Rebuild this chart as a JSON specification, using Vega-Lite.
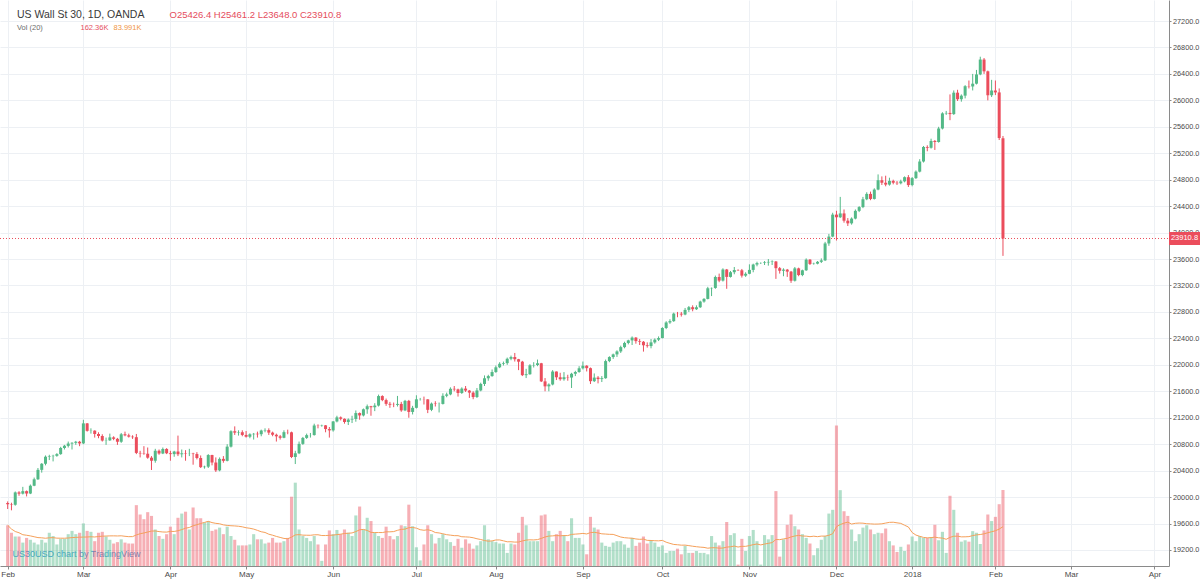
{
  "$schema": "https://vega.github.io/schema/vega-lite/v6.json",
  "width": 1169,
  "height": 566,
  "autosize": {"type": "none"},
  "padding": {"left": 0, "top": 0, "right": 31, "bottom": 13},
  "background": "#ffffff",
  "config": {
    "font": "Liberation Sans",
    "view": {"stroke": null},
    "axis": {"labelFont": "Liberation Sans", "titleFont": "Liberation Sans"}
  },
  "title": {
    "text": "US Wall St 30, 1D, OANDA",
    "subtitle": "Vol (20)",
    "anchor": "start",
    "frame": "group",
    "orient": "top",
    "offset": -31,
    "dx": 17,
    "font": "Liberation Sans",
    "fontSize": 10.5,
    "fontWeight": "normal",
    "color": "#3a3a3a",
    "subtitleFont": "Liberation Sans",
    "subtitleFontSize": 7.5,
    "subtitleColor": "#6b6b6b",
    "subtitlePadding": 3
  },
  "data": {"values": [
    {"d":"2017-02-01","o":19910,"h":19935,"l":19820,"c":19890,"v":87},
    {"d":"2017-02-02","o":19890,"h":19915,"l":19800,"c":19884,"v":71},
    {"d":"2017-02-03","o":19884,"h":20085,"l":19870,"c":20071,"v":63},
    {"d":"2017-02-06","o":20071,"h":20090,"l":20020,"c":20052,"v":63},
    {"d":"2017-02-07","o":20052,"h":20155,"l":20040,"c":20090,"v":50},
    {"d":"2017-02-08","o":20090,"h":20100,"l":20010,"c":20054,"v":60},
    {"d":"2017-02-09","o":20054,"h":20190,"l":20045,"c":20172,"v":56},
    {"d":"2017-02-10","o":20172,"h":20295,"l":20165,"c":20269,"v":50},
    {"d":"2017-02-13","o":20269,"h":20440,"l":20260,"c":20412,"v":46},
    {"d":"2017-02-14","o":20412,"h":20515,"l":20370,"c":20504,"v":56},
    {"d":"2017-02-15","o":20504,"h":20630,"l":20480,"c":20611,"v":50},
    {"d":"2017-02-16","o":20611,"h":20640,"l":20560,"c":20619,"v":71},
    {"d":"2017-02-17","o":20619,"h":20640,"l":20540,"c":20624,"v":64},
    {"d":"2017-02-20","o":20624,"h":20665,"l":20610,"c":20650,"v":46},
    {"d":"2017-02-21","o":20650,"h":20760,"l":20640,"c":20743,"v":58},
    {"d":"2017-02-22","o":20743,"h":20790,"l":20720,"c":20775,"v":58},
    {"d":"2017-02-23","o":20775,"h":20840,"l":20750,"c":20810,"v":68},
    {"d":"2017-02-24","o":20810,"h":20830,"l":20720,"c":20821,"v":75},
    {"d":"2017-02-27","o":20821,"h":20850,"l":20790,"c":20837,"v":68},
    {"d":"2017-02-28","o":20837,"h":20850,"l":20770,"c":20812,"v":71},
    {"d":"2017-03-01","o":20812,"h":21169,"l":20800,"c":21115,"v":91},
    {"d":"2017-03-02","o":21115,"h":21120,"l":20990,"c":21002,"v":75},
    {"d":"2017-03-03","o":21002,"h":21040,"l":20960,"c":21005,"v":73},
    {"d":"2017-03-06","o":21005,"h":21010,"l":20900,"c":20954,"v":53},
    {"d":"2017-03-07","o":20954,"h":20980,"l":20890,"c":20924,"v":71},
    {"d":"2017-03-08","o":20924,"h":20950,"l":20840,"c":20855,"v":73},
    {"d":"2017-03-09","o":20855,"h":20900,"l":20790,"c":20858,"v":63},
    {"d":"2017-03-10","o":20858,"h":20960,"l":20850,"c":20903,"v":56},
    {"d":"2017-03-13","o":20903,"h":20920,"l":20860,"c":20881,"v":48},
    {"d":"2017-03-14","o":20881,"h":20895,"l":20790,"c":20837,"v":51},
    {"d":"2017-03-15","o":20837,"h":20970,"l":20820,"c":20950,"v":57},
    {"d":"2017-03-16","o":20950,"h":20990,"l":20920,"c":20934,"v":50},
    {"d":"2017-03-17","o":20934,"h":20960,"l":20900,"c":20914,"v":48},
    {"d":"2017-03-20","o":20914,"h":20935,"l":20880,"c":20906,"v":48},
    {"d":"2017-03-21","o":20906,"h":20955,"l":20650,"c":20668,"v":130},
    {"d":"2017-03-22","o":20668,"h":20700,"l":20600,"c":20661,"v":110},
    {"d":"2017-03-23","o":20661,"h":20770,"l":20640,"c":20656,"v":100},
    {"d":"2017-03-24","o":20656,"h":20750,"l":20580,"c":20596,"v":115},
    {"d":"2017-03-27","o":20596,"h":20620,"l":20410,"c":20550,"v":107},
    {"d":"2017-03-28","o":20550,"h":20730,"l":20520,"c":20701,"v":78},
    {"d":"2017-03-29","o":20701,"h":20720,"l":20640,"c":20659,"v":64},
    {"d":"2017-03-30","o":20659,"h":20750,"l":20650,"c":20728,"v":58},
    {"d":"2017-03-31","o":20728,"h":20740,"l":20650,"c":20663,"v":68},
    {"d":"2017-04-03","o":20663,"h":20700,"l":20550,"c":20650,"v":84},
    {"d":"2017-04-04","o":20650,"h":20700,"l":20610,"c":20689,"v":68},
    {"d":"2017-04-05","o":20689,"h":20930,"l":20620,"c":20648,"v":103},
    {"d":"2017-04-06","o":20648,"h":20720,"l":20600,"c":20662,"v":112},
    {"d":"2017-04-07","o":20662,"h":20710,"l":20550,"c":20656,"v":116},
    {"d":"2017-04-10","o":20656,"h":20730,"l":20620,"c":20658,"v":78},
    {"d":"2017-04-11","o":20658,"h":20670,"l":20490,"c":20651,"v":125},
    {"d":"2017-04-12","o":20651,"h":20680,"l":20570,"c":20591,"v":102},
    {"d":"2017-04-13","o":20591,"h":20630,"l":20440,"c":20453,"v":102},
    {"d":"2017-04-14","o":20453,"h":20475,"l":20430,"c":20460,"v":93},
    {"d":"2017-04-17","o":20460,"h":20650,"l":20440,"c":20636,"v":96},
    {"d":"2017-04-18","o":20636,"h":20640,"l":20480,"c":20523,"v":75},
    {"d":"2017-04-19","o":20523,"h":20600,"l":20380,"c":20404,"v":78},
    {"d":"2017-04-20","o":20404,"h":20600,"l":20390,"c":20578,"v":82},
    {"d":"2017-04-21","o":20578,"h":20620,"l":20520,"c":20548,"v":68},
    {"d":"2017-04-24","o":20548,"h":20800,"l":20540,"c":20763,"v":84},
    {"d":"2017-04-25","o":20763,"h":21010,"l":20750,"c":20996,"v":64},
    {"d":"2017-04-26","o":20996,"h":21070,"l":20940,"c":20975,"v":56},
    {"d":"2017-04-27","o":20975,"h":21010,"l":20930,"c":20981,"v":44},
    {"d":"2017-04-28","o":20981,"h":21010,"l":20920,"c":20940,"v":44},
    {"d":"2017-05-01","o":20940,"h":21000,"l":20900,"c":20913,"v":44},
    {"d":"2017-05-02","o":20913,"h":20965,"l":20890,"c":20950,"v":46},
    {"d":"2017-05-03","o":20950,"h":20970,"l":20870,"c":20957,"v":68},
    {"d":"2017-05-04","o":20957,"h":20990,"l":20900,"c":20951,"v":57},
    {"d":"2017-05-05","o":20951,"h":21020,"l":20920,"c":21007,"v":57},
    {"d":"2017-05-08","o":21007,"h":21040,"l":20980,"c":21013,"v":48},
    {"d":"2017-05-09","o":21013,"h":21040,"l":20940,"c":20975,"v":50},
    {"d":"2017-05-10","o":20975,"h":20990,"l":20920,"c":20943,"v":60},
    {"d":"2017-05-11","o":20943,"h":20960,"l":20840,"c":20919,"v":50},
    {"d":"2017-05-12","o":20919,"h":20940,"l":20870,"c":20897,"v":50},
    {"d":"2017-05-15","o":20897,"h":21010,"l":20890,"c":20982,"v":53},
    {"d":"2017-05-16","o":20982,"h":21020,"l":20950,"c":20980,"v":60},
    {"d":"2017-05-17","o":20980,"h":20990,"l":20590,"c":20606,"v":148},
    {"d":"2017-05-18","o":20606,"h":20700,"l":20500,"c":20663,"v":178},
    {"d":"2017-05-19","o":20663,"h":20840,"l":20650,"c":20805,"v":78},
    {"d":"2017-05-22","o":20805,"h":20910,"l":20790,"c":20895,"v":64},
    {"d":"2017-05-23","o":20895,"h":20960,"l":20880,"c":20937,"v":60},
    {"d":"2017-05-24","o":20937,"h":20970,"l":20900,"c":20938,"v":53},
    {"d":"2017-05-25","o":20938,"h":21110,"l":20930,"c":21083,"v":64},
    {"d":"2017-05-26","o":21083,"h":21100,"l":21040,"c":21080,"v":46},
    {"d":"2017-05-29","o":21080,"h":21095,"l":21065,"c":21085,"v":11},
    {"d":"2017-05-30","o":21085,"h":21090,"l":20980,"c":21029,"v":46},
    {"d":"2017-05-31","o":21029,"h":21060,"l":20900,"c":21009,"v":76},
    {"d":"2017-06-01","o":21009,"h":21150,"l":20990,"c":21144,"v":68},
    {"d":"2017-06-02","o":21144,"h":21230,"l":21130,"c":21206,"v":77},
    {"d":"2017-06-05","o":21206,"h":21220,"l":21160,"c":21184,"v":68},
    {"d":"2017-06-06","o":21184,"h":21190,"l":21110,"c":21136,"v":78},
    {"d":"2017-06-07","o":21136,"h":21190,"l":21090,"c":21173,"v":71},
    {"d":"2017-06-08","o":21173,"h":21230,"l":21120,"c":21182,"v":64},
    {"d":"2017-06-09","o":21182,"h":21310,"l":21140,"c":21271,"v":108},
    {"d":"2017-06-12","o":21271,"h":21280,"l":21170,"c":21235,"v":127},
    {"d":"2017-06-13","o":21235,"h":21340,"l":21220,"c":21328,"v":78},
    {"d":"2017-06-14","o":21328,"h":21400,"l":21260,"c":21374,"v":103},
    {"d":"2017-06-15","o":21374,"h":21380,"l":21230,"c":21359,"v":96},
    {"d":"2017-06-16","o":21359,"h":21420,"l":21300,"c":21384,"v":71},
    {"d":"2017-06-19","o":21384,"h":21550,"l":21370,"c":21528,"v":64},
    {"d":"2017-06-20","o":21528,"h":21540,"l":21450,"c":21467,"v":60},
    {"d":"2017-06-21","o":21467,"h":21490,"l":21380,"c":21410,"v":84},
    {"d":"2017-06-22","o":21410,"h":21440,"l":21350,"c":21397,"v":64},
    {"d":"2017-06-23","o":21397,"h":21430,"l":21360,"c":21395,"v":57},
    {"d":"2017-06-26","o":21395,"h":21530,"l":21370,"c":21409,"v":64},
    {"d":"2017-06-27","o":21409,"h":21440,"l":21290,"c":21311,"v":87},
    {"d":"2017-06-28","o":21311,"h":21470,"l":21300,"c":21455,"v":85},
    {"d":"2017-06-29","o":21455,"h":21470,"l":21200,"c":21288,"v":131},
    {"d":"2017-06-30","o":21288,"h":21380,"l":21250,"c":21350,"v":85},
    {"d":"2017-07-03","o":21350,"h":21540,"l":21340,"c":21479,"v":40},
    {"d":"2017-07-04","o":21479,"h":21500,"l":21460,"c":21480,"v":12},
    {"d":"2017-07-05","o":21480,"h":21520,"l":21400,"c":21478,"v":46},
    {"d":"2017-07-06","o":21478,"h":21480,"l":21270,"c":21320,"v":87},
    {"d":"2017-07-07","o":21320,"h":21430,"l":21300,"c":21414,"v":68},
    {"d":"2017-07-10","o":21414,"h":21450,"l":21370,"c":21408,"v":48},
    {"d":"2017-07-11","o":21408,"h":21430,"l":21280,"c":21409,"v":60},
    {"d":"2017-07-12","o":21409,"h":21570,"l":21400,"c":21532,"v":68},
    {"d":"2017-07-13","o":21532,"h":21580,"l":21510,"c":21553,"v":57},
    {"d":"2017-07-14","o":21553,"h":21660,"l":21540,"c":21638,"v":51},
    {"d":"2017-07-17","o":21638,"h":21680,"l":21600,"c":21629,"v":43},
    {"d":"2017-07-18","o":21629,"h":21640,"l":21520,"c":21574,"v":58},
    {"d":"2017-07-19","o":21574,"h":21660,"l":21560,"c":21641,"v":39},
    {"d":"2017-07-20","o":21641,"h":21680,"l":21590,"c":21611,"v":57},
    {"d":"2017-07-21","o":21611,"h":21620,"l":21500,"c":21580,"v":48},
    {"d":"2017-07-24","o":21580,"h":21600,"l":21480,"c":21513,"v":37},
    {"d":"2017-07-25","o":21513,"h":21650,"l":21500,"c":21613,"v":44},
    {"d":"2017-07-26","o":21613,"h":21730,"l":21600,"c":21711,"v":53},
    {"d":"2017-07-27","o":21711,"h":21840,"l":21680,"c":21797,"v":87},
    {"d":"2017-07-28","o":21797,"h":21850,"l":21760,"c":21830,"v":57},
    {"d":"2017-07-31","o":21830,"h":21930,"l":21820,"c":21891,"v":53},
    {"d":"2017-08-01","o":21891,"h":21990,"l":21880,"c":21963,"v":51},
    {"d":"2017-08-02","o":21963,"h":22040,"l":21950,"c":22016,"v":48},
    {"d":"2017-08-03","o":22016,"h":22050,"l":21990,"c":22026,"v":48},
    {"d":"2017-08-04","o":22026,"h":22110,"l":22000,"c":22092,"v":28},
    {"d":"2017-08-07","o":22092,"h":22140,"l":22070,"c":22118,"v":48},
    {"d":"2017-08-08","o":22118,"h":22180,"l":22050,"c":22085,"v":46},
    {"d":"2017-08-09","o":22085,"h":22090,"l":21920,"c":22048,"v":71},
    {"d":"2017-08-10","o":22048,"h":22060,"l":21830,"c":21844,"v":105},
    {"d":"2017-08-11","o":21844,"h":21940,"l":21800,"c":21858,"v":87},
    {"d":"2017-08-14","o":21858,"h":22010,"l":21850,"c":21993,"v":53},
    {"d":"2017-08-15","o":21993,"h":22040,"l":21960,"c":21998,"v":53},
    {"d":"2017-08-16","o":21998,"h":22080,"l":21980,"c":22024,"v":53},
    {"d":"2017-08-17","o":22024,"h":22030,"l":21740,"c":21750,"v":108},
    {"d":"2017-08-18","o":21750,"h":21800,"l":21600,"c":21675,"v":110},
    {"d":"2017-08-21","o":21675,"h":21720,"l":21600,"c":21703,"v":75},
    {"d":"2017-08-22","o":21703,"h":21920,"l":21690,"c":21899,"v":53},
    {"d":"2017-08-23","o":21899,"h":21900,"l":21770,"c":21812,"v":68},
    {"d":"2017-08-24","o":21812,"h":21880,"l":21760,"c":21783,"v":75},
    {"d":"2017-08-25","o":21783,"h":21890,"l":21760,"c":21813,"v":66},
    {"d":"2017-08-28","o":21813,"h":21850,"l":21760,"c":21808,"v":53},
    {"d":"2017-08-29","o":21808,"h":21880,"l":21650,"c":21865,"v":102},
    {"d":"2017-08-30","o":21865,"h":21910,"l":21830,"c":21892,"v":60},
    {"d":"2017-08-31","o":21892,"h":21980,"l":21880,"c":21948,"v":60},
    {"d":"2017-09-01","o":21948,"h":22050,"l":21930,"c":21987,"v":46},
    {"d":"2017-09-04","o":21987,"h":21995,"l":21900,"c":21950,"v":25},
    {"d":"2017-09-05","o":21950,"h":21960,"l":21710,"c":21753,"v":105},
    {"d":"2017-09-06","o":21753,"h":21870,"l":21740,"c":21807,"v":82},
    {"d":"2017-09-07","o":21807,"h":21830,"l":21720,"c":21785,"v":78},
    {"d":"2017-09-08","o":21785,"h":21830,"l":21740,"c":21798,"v":50},
    {"d":"2017-09-11","o":21798,"h":22080,"l":21790,"c":22057,"v":43},
    {"d":"2017-09-12","o":22057,"h":22130,"l":22040,"c":22118,"v":41},
    {"d":"2017-09-13","o":22118,"h":22170,"l":22090,"c":22158,"v":50},
    {"d":"2017-09-14","o":22158,"h":22220,"l":22120,"c":22203,"v":53},
    {"d":"2017-09-15","o":22203,"h":22290,"l":22180,"c":22268,"v":53},
    {"d":"2017-09-18","o":22268,"h":22350,"l":22250,"c":22331,"v":46},
    {"d":"2017-09-19","o":22331,"h":22380,"l":22310,"c":22370,"v":39},
    {"d":"2017-09-20","o":22370,"h":22430,"l":22300,"c":22412,"v":60},
    {"d":"2017-09-21","o":22412,"h":22420,"l":22320,"c":22359,"v":43},
    {"d":"2017-09-22","o":22359,"h":22390,"l":22300,"c":22349,"v":50},
    {"d":"2017-09-25","o":22349,"h":22360,"l":22200,"c":22296,"v":63},
    {"d":"2017-09-26","o":22296,"h":22340,"l":22260,"c":22284,"v":48},
    {"d":"2017-09-27","o":22284,"h":22390,"l":22250,"c":22340,"v":55},
    {"d":"2017-09-28","o":22340,"h":22400,"l":22320,"c":22381,"v":50},
    {"d":"2017-09-29","o":22381,"h":22430,"l":22360,"c":22405,"v":41},
    {"d":"2017-10-02","o":22405,"h":22570,"l":22400,"c":22557,"v":44},
    {"d":"2017-10-03","o":22557,"h":22660,"l":22540,"c":22641,"v":28},
    {"d":"2017-10-04","o":22641,"h":22690,"l":22620,"c":22661,"v":32},
    {"d":"2017-10-05","o":22661,"h":22790,"l":22650,"c":22775,"v":32},
    {"d":"2017-10-06","o":22775,"h":22800,"l":22720,"c":22773,"v":37},
    {"d":"2017-10-09","o":22773,"h":22800,"l":22730,"c":22761,"v":25},
    {"d":"2017-10-10","o":22761,"h":22860,"l":22750,"c":22831,"v":43},
    {"d":"2017-10-11","o":22831,"h":22890,"l":22800,"c":22872,"v":28},
    {"d":"2017-10-12","o":22872,"h":22900,"l":22810,"c":22841,"v":28},
    {"d":"2017-10-13","o":22841,"h":22900,"l":22830,"c":22871,"v":32},
    {"d":"2017-10-16","o":22871,"h":22970,"l":22860,"c":22957,"v":28},
    {"d":"2017-10-17","o":22957,"h":23010,"l":22940,"c":22997,"v":28},
    {"d":"2017-10-18","o":22997,"h":23180,"l":22990,"c":23158,"v":25},
    {"d":"2017-10-19","o":23158,"h":23170,"l":23040,"c":23163,"v":64},
    {"d":"2017-10-20","o":23163,"h":23350,"l":23150,"c":23329,"v":50},
    {"d":"2017-10-23","o":23329,"h":23380,"l":23250,"c":23274,"v":44},
    {"d":"2017-10-24","o":23274,"h":23460,"l":23260,"c":23442,"v":53},
    {"d":"2017-10-25","o":23442,"h":23450,"l":23150,"c":23330,"v":94},
    {"d":"2017-10-26","o":23330,"h":23420,"l":23320,"c":23401,"v":66},
    {"d":"2017-10-27","o":23401,"h":23480,"l":23370,"c":23434,"v":70},
    {"d":"2017-10-29","o":23434,"h":23445,"l":23420,"c":23430,"v":3},
    {"d":"2017-10-30","o":23430,"h":23450,"l":23320,"c":23349,"v":58},
    {"d":"2017-10-31","o":23349,"h":23400,"l":23330,"c":23377,"v":32},
    {"d":"2017-11-01","o":23377,"h":23520,"l":23370,"c":23436,"v":64},
    {"d":"2017-11-02","o":23436,"h":23530,"l":23400,"c":23517,"v":77},
    {"d":"2017-11-03","o":23517,"h":23560,"l":23490,"c":23539,"v":53},
    {"d":"2017-11-05","o":23539,"h":23550,"l":23525,"c":23540,"v":3},
    {"d":"2017-11-06","o":23540,"h":23570,"l":23510,"c":23549,"v":66},
    {"d":"2017-11-07","o":23549,"h":23600,"l":23500,"c":23557,"v":57},
    {"d":"2017-11-08","o":23557,"h":23580,"l":23510,"c":23563,"v":66},
    {"d":"2017-11-09","o":23563,"h":23570,"l":23300,"c":23462,"v":160},
    {"d":"2017-11-10","o":23462,"h":23480,"l":23380,"c":23423,"v":20},
    {"d":"2017-11-13","o":23423,"h":23460,"l":23340,"c":23440,"v":57},
    {"d":"2017-11-14","o":23440,"h":23450,"l":23330,"c":23410,"v":88},
    {"d":"2017-11-15","o":23410,"h":23420,"l":23240,"c":23272,"v":110},
    {"d":"2017-11-16","o":23272,"h":23480,"l":23260,"c":23459,"v":85},
    {"d":"2017-11-17","o":23459,"h":23470,"l":23340,"c":23358,"v":78},
    {"d":"2017-11-20","o":23358,"h":23440,"l":23340,"c":23430,"v":68},
    {"d":"2017-11-21","o":23430,"h":23610,"l":23420,"c":23591,"v":60},
    {"d":"2017-11-22","o":23591,"h":23600,"l":23510,"c":23526,"v":48},
    {"d":"2017-11-23","o":23526,"h":23545,"l":23515,"c":23530,"v":23},
    {"d":"2017-11-24","o":23530,"h":23570,"l":23520,"c":23558,"v":38},
    {"d":"2017-11-27","o":23558,"h":23610,"l":23540,"c":23580,"v":56},
    {"d":"2017-11-28","o":23580,"h":23860,"l":23570,"c":23836,"v":64},
    {"d":"2017-11-29","o":23836,"h":23980,"l":23800,"c":23940,"v":112},
    {"d":"2017-11-30","o":23940,"h":24300,"l":23930,"c":24272,"v":120},
    {"d":"2017-12-01","o":24272,"h":24330,"l":23880,"c":24232,"v":300},
    {"d":"2017-12-04","o":24232,"h":24540,"l":24220,"c":24290,"v":162},
    {"d":"2017-12-05","o":24290,"h":24350,"l":24150,"c":24180,"v":117},
    {"d":"2017-12-06","o":24180,"h":24220,"l":24100,"c":24140,"v":107},
    {"d":"2017-12-07","o":24140,"h":24230,"l":24120,"c":24212,"v":78},
    {"d":"2017-12-08","o":24212,"h":24350,"l":24200,"c":24329,"v":53},
    {"d":"2017-12-11","o":24329,"h":24400,"l":24310,"c":24386,"v":68},
    {"d":"2017-12-12","o":24386,"h":24540,"l":24370,"c":24504,"v":82},
    {"d":"2017-12-13","o":24504,"h":24610,"l":24490,"c":24585,"v":87},
    {"d":"2017-12-14","o":24585,"h":24620,"l":24490,"c":24509,"v":78},
    {"d":"2017-12-15","o":24509,"h":24670,"l":24500,"c":24651,"v":68},
    {"d":"2017-12-18","o":24651,"h":24880,"l":24640,"c":24792,"v":71},
    {"d":"2017-12-19","o":24792,"h":24850,"l":24720,"c":24754,"v":70},
    {"d":"2017-12-20","o":24754,"h":24860,"l":24700,"c":24726,"v":80},
    {"d":"2017-12-21","o":24726,"h":24830,"l":24710,"c":24782,"v":53},
    {"d":"2017-12-22","o":24782,"h":24800,"l":24730,"c":24754,"v":44},
    {"d":"2017-12-26","o":24754,"h":24780,"l":24720,"c":24746,"v":30},
    {"d":"2017-12-27","o":24746,"h":24800,"l":24730,"c":24775,"v":41},
    {"d":"2017-12-28","o":24775,"h":24850,"l":24760,"c":24838,"v":32},
    {"d":"2017-12-29","o":24838,"h":24870,"l":24690,"c":24719,"v":46},
    {"d":"2018-01-02","o":24719,"h":24840,"l":24700,"c":24824,"v":63},
    {"d":"2018-01-03","o":24824,"h":24940,"l":24810,"c":24922,"v":53},
    {"d":"2018-01-04","o":24922,"h":25110,"l":24910,"c":25075,"v":64},
    {"d":"2018-01-05","o":25075,"h":25310,"l":25060,"c":25295,"v":60},
    {"d":"2018-01-08","o":25295,"h":25320,"l":25230,"c":25283,"v":60},
    {"d":"2018-01-09","o":25283,"h":25420,"l":25270,"c":25386,"v":62},
    {"d":"2018-01-10","o":25386,"h":25400,"l":25250,"c":25370,"v":88},
    {"d":"2018-01-11","o":25370,"h":25600,"l":25360,"c":25574,"v":55},
    {"d":"2018-01-12","o":25574,"h":25820,"l":25560,"c":25803,"v":73},
    {"d":"2018-01-15","o":25803,"h":25840,"l":25780,"c":25810,"v":28},
    {"d":"2018-01-16","o":25810,"h":26090,"l":25700,"c":25792,"v":150},
    {"d":"2018-01-17","o":25792,"h":26150,"l":25780,"c":26116,"v":120},
    {"d":"2018-01-18","o":26116,"h":26160,"l":25990,"c":26017,"v":71},
    {"d":"2018-01-19","o":26017,"h":26090,"l":25980,"c":26071,"v":52},
    {"d":"2018-01-22","o":26071,"h":26230,"l":26030,"c":26214,"v":55},
    {"d":"2018-01-23","o":26214,"h":26300,"l":26180,"c":26210,"v":52},
    {"d":"2018-01-24","o":26210,"h":26400,"l":26150,"c":26252,"v":74.46},
    {"d":"2018-01-25","o":26252,"h":26460,"l":26240,"c":26392,"v":71},
    {"d":"2018-01-26","o":26392,"h":26660,"l":26380,"c":26617,"v":47},
    {"d":"2018-01-29","o":26617,"h":26640,"l":26400,"c":26439,"v":76},
    {"d":"2018-01-30","o":26439,"h":26450,"l":26000,"c":26077,"v":110},
    {"d":"2018-01-31","o":26077,"h":26310,"l":26050,"c":26149,"v":96},
    {"d":"2018-02-01","o":26149,"h":26300,"l":26080,"c":26120,"v":105},
    {"d":"2018-02-02","o":26120,"h":26180,"l":25400,"c":25430,"v":132},
    {"d":"2018-02-05","o":25426.4,"h":25461.2,"l":23648.0,"c":23910.8,"v":162.36}
  ]},
  "transform": [
    {"window": [{"op": "row_number", "as": "n"}], "sort": [{"field": "d", "order": "ascending"}]},
    {"joinaggregate": [{"op": "max", "field": "n", "as": "nmax"}]},
    {"window": [{"op": "mean", "field": "v", "as": "ma"}], "frame": [-19, 0], "sort": [{"field": "d", "order": "ascending"}]}
  ],
  "resolve": {"scale": {"y": "independent"}, "axis": {"x": "independent"}},
  "layer": [
    {
      "mark": {"type": "bar", "size": 3.1, "fillOpacity": 0.45},
      "encoding": {
        "x": {
          "field": "n", "type": "quantitative",
          "scale": {"domain": [0.2926, 306.55], "nice": false, "zero": false},
          "axis": {
            "orient": "top", "domain": false, "ticks": false, "labels": false, "grid": false,
            "title": "83.991K", "titleX": 113, "titleY": 27, "titleAlign": "left", "titleBaseline": "middle",
            "titleAngle": 0, "titleFontSize": 7.5, "titleFontWeight": "normal", "titleColor": "#f0953f"
          }
        },
        "y": {
          "field": "v", "type": "quantitative",
          "scale": {"domain": [0, 1209], "nice": false, "zero": true},
          "axis": {
            "orient": "left", "domain": false, "ticks": false, "labels": false, "grid": false,
            "title": "162.36K", "titleX": 80, "titleY": 27, "titleAlign": "left", "titleBaseline": "middle",
            "titleAngle": 0, "titleFontSize": 7.5, "titleFontWeight": "normal", "titleColor": "#e5505f"
          }
        },
        "color": {"condition": {"test": "datum.c >= datum.o", "value": "#53b987"}, "value": "#eb4d5c"}
      }
    },
    {
      "mark": {"type": "line", "color": "#f5a05a", "strokeWidth": 1},
      "encoding": {
        "x": {"field": "n", "type": "quantitative", "scale": {"domain": [0.2926, 306.55], "nice": false, "zero": false}, "axis": null},
        "y": {"field": "ma", "type": "quantitative", "scale": {"domain": [0, 1209], "nice": false, "zero": true}, "axis": null}
      }
    },
    {
      "mark": {"type": "rule", "strokeWidth": 1},
      "encoding": {
        "x": {
          "field": "n", "type": "quantitative",
          "scale": {"domain": [0.2926, 306.55], "nice": false, "zero": false},
          "axis": {
            "orient": "bottom",
            "values": [1, 21, 44, 64, 87, 109, 130, 153, 174, 197, 220, 240, 262, 282, 304],
            "labelExpr": "['Feb','Mar','Apr','May','Jun','Jul','Aug','Sep','Oct','Nov','Dec','2018','Feb','Mar','Apr'][indexof([1,21,44,64,87,109,130,153,174,197,220,240,262,282,304], datum.value)]",
            "labelFlush": false, "labelOverlap": false, "labelBound": false,
            "labelFontSize": 8, "labelColor": "#4a4a4a", "labelPadding": 1,
            "tickSize": 3, "tickColor": "#8a8a8a", "domainColor": "#8a8a8a",
            "grid": true, "gridColor": "#edf0f4",
            "title": "US30USD chart by TradingView", "titleX": 12, "titleY": -13,
            "titleAlign": "left", "titleBaseline": "middle", "titleAnchor": "start",
            "titleFontSize": 9, "titleFontWeight": "normal", "titleColor": "#3f9fe0"
          }
        },
        "y": {
          "field": "l", "type": "quantitative",
          "scale": {"domain": [18958, 27517.6], "nice": false, "zero": false},
          "axis": {
            "orient": "right",
            "values": [19200, 19600, 20000, 20400, 20800, 21200, 21600, 22000, 22400, 22800, 23200, 23600, 24000, 24400, 24800, 25200, 25600, 26000, 26400, 26800, 27200],
            "format": ".1f",
            "labelFlush": false, "labelOverlap": false,
            "labelFontSize": 7.3, "labelColor": "#4a4a4a", "labelPadding": 1.5,
            "tickSize": 2, "tickColor": "#8a8a8a", "domainColor": "#8a8a8a",
            "grid": true, "gridColor": "#edf0f4",
            "title": "O25426.4  H25461.2  L23648.0  C23910.8",
            "titleAngle": 0, "titleX": -1000, "titleY": 14, "titleAlign": "left", "titleBaseline": "middle",
            "titleFontSize": 9.5, "titleFontWeight": "normal", "titleColor": "#e54d5d"
          }
        },
        "y2": {"field": "h"},
        "color": {"condition": {"test": "datum.c >= datum.o", "value": "#53b987"}, "value": "#eb4d5c"}
      }
    },
    {
      "mark": {"type": "bar", "size": 3},
      "encoding": {
        "x": {"field": "n", "type": "quantitative", "scale": {"domain": [0.2926, 306.55], "nice": false, "zero": false}, "axis": null},
        "y": {"field": "o", "type": "quantitative", "scale": {"domain": [18958, 27517.6], "nice": false, "zero": false}, "axis": null},
        "y2": {"field": "c"},
        "color": {"condition": {"test": "datum.c >= datum.o", "value": "#53b987"}, "value": "#eb4d5c"}
      }
    },
    {
      "transform": [{"filter": "datum.n == datum.nmax"}],
      "mark": {"type": "rule", "color": "#eb4d5c", "strokeWidth": 1, "strokeDash": [1, 2]},
      "encoding": {
        "x": {"value": 0},
        "x2": {"value": 1169},
        "y": {"field": "c", "type": "quantitative", "scale": {"domain": [18958, 27517.6], "nice": false, "zero": false}, "axis": null}
      }
    },
    {
      "transform": [{"filter": "datum.n == datum.nmax"}],
      "mark": {"type": "rule", "color": "#eb4d5c", "strokeWidth": 13},
      "encoding": {
        "x": {"value": 1169},
        "x2": {"value": 1200},
        "y": {"field": "c", "type": "quantitative", "scale": {"domain": [18958, 27517.6], "nice": false, "zero": false}, "axis": null}
      }
    },
    {
      "transform": [{"filter": "datum.n == datum.nmax"}],
      "mark": {"type": "text", "color": "#ffffff", "fontSize": 7.5, "align": "center", "baseline": "middle", "font": "Liberation Sans"},
      "encoding": {
        "x": {"value": 1184.5},
        "y": {"field": "c", "type": "quantitative", "scale": {"domain": [18958, 27517.6], "nice": false, "zero": false}, "axis": null},
        "text": {"field": "c", "type": "quantitative", "format": ".1f"}
      }
    }
  ]
}
